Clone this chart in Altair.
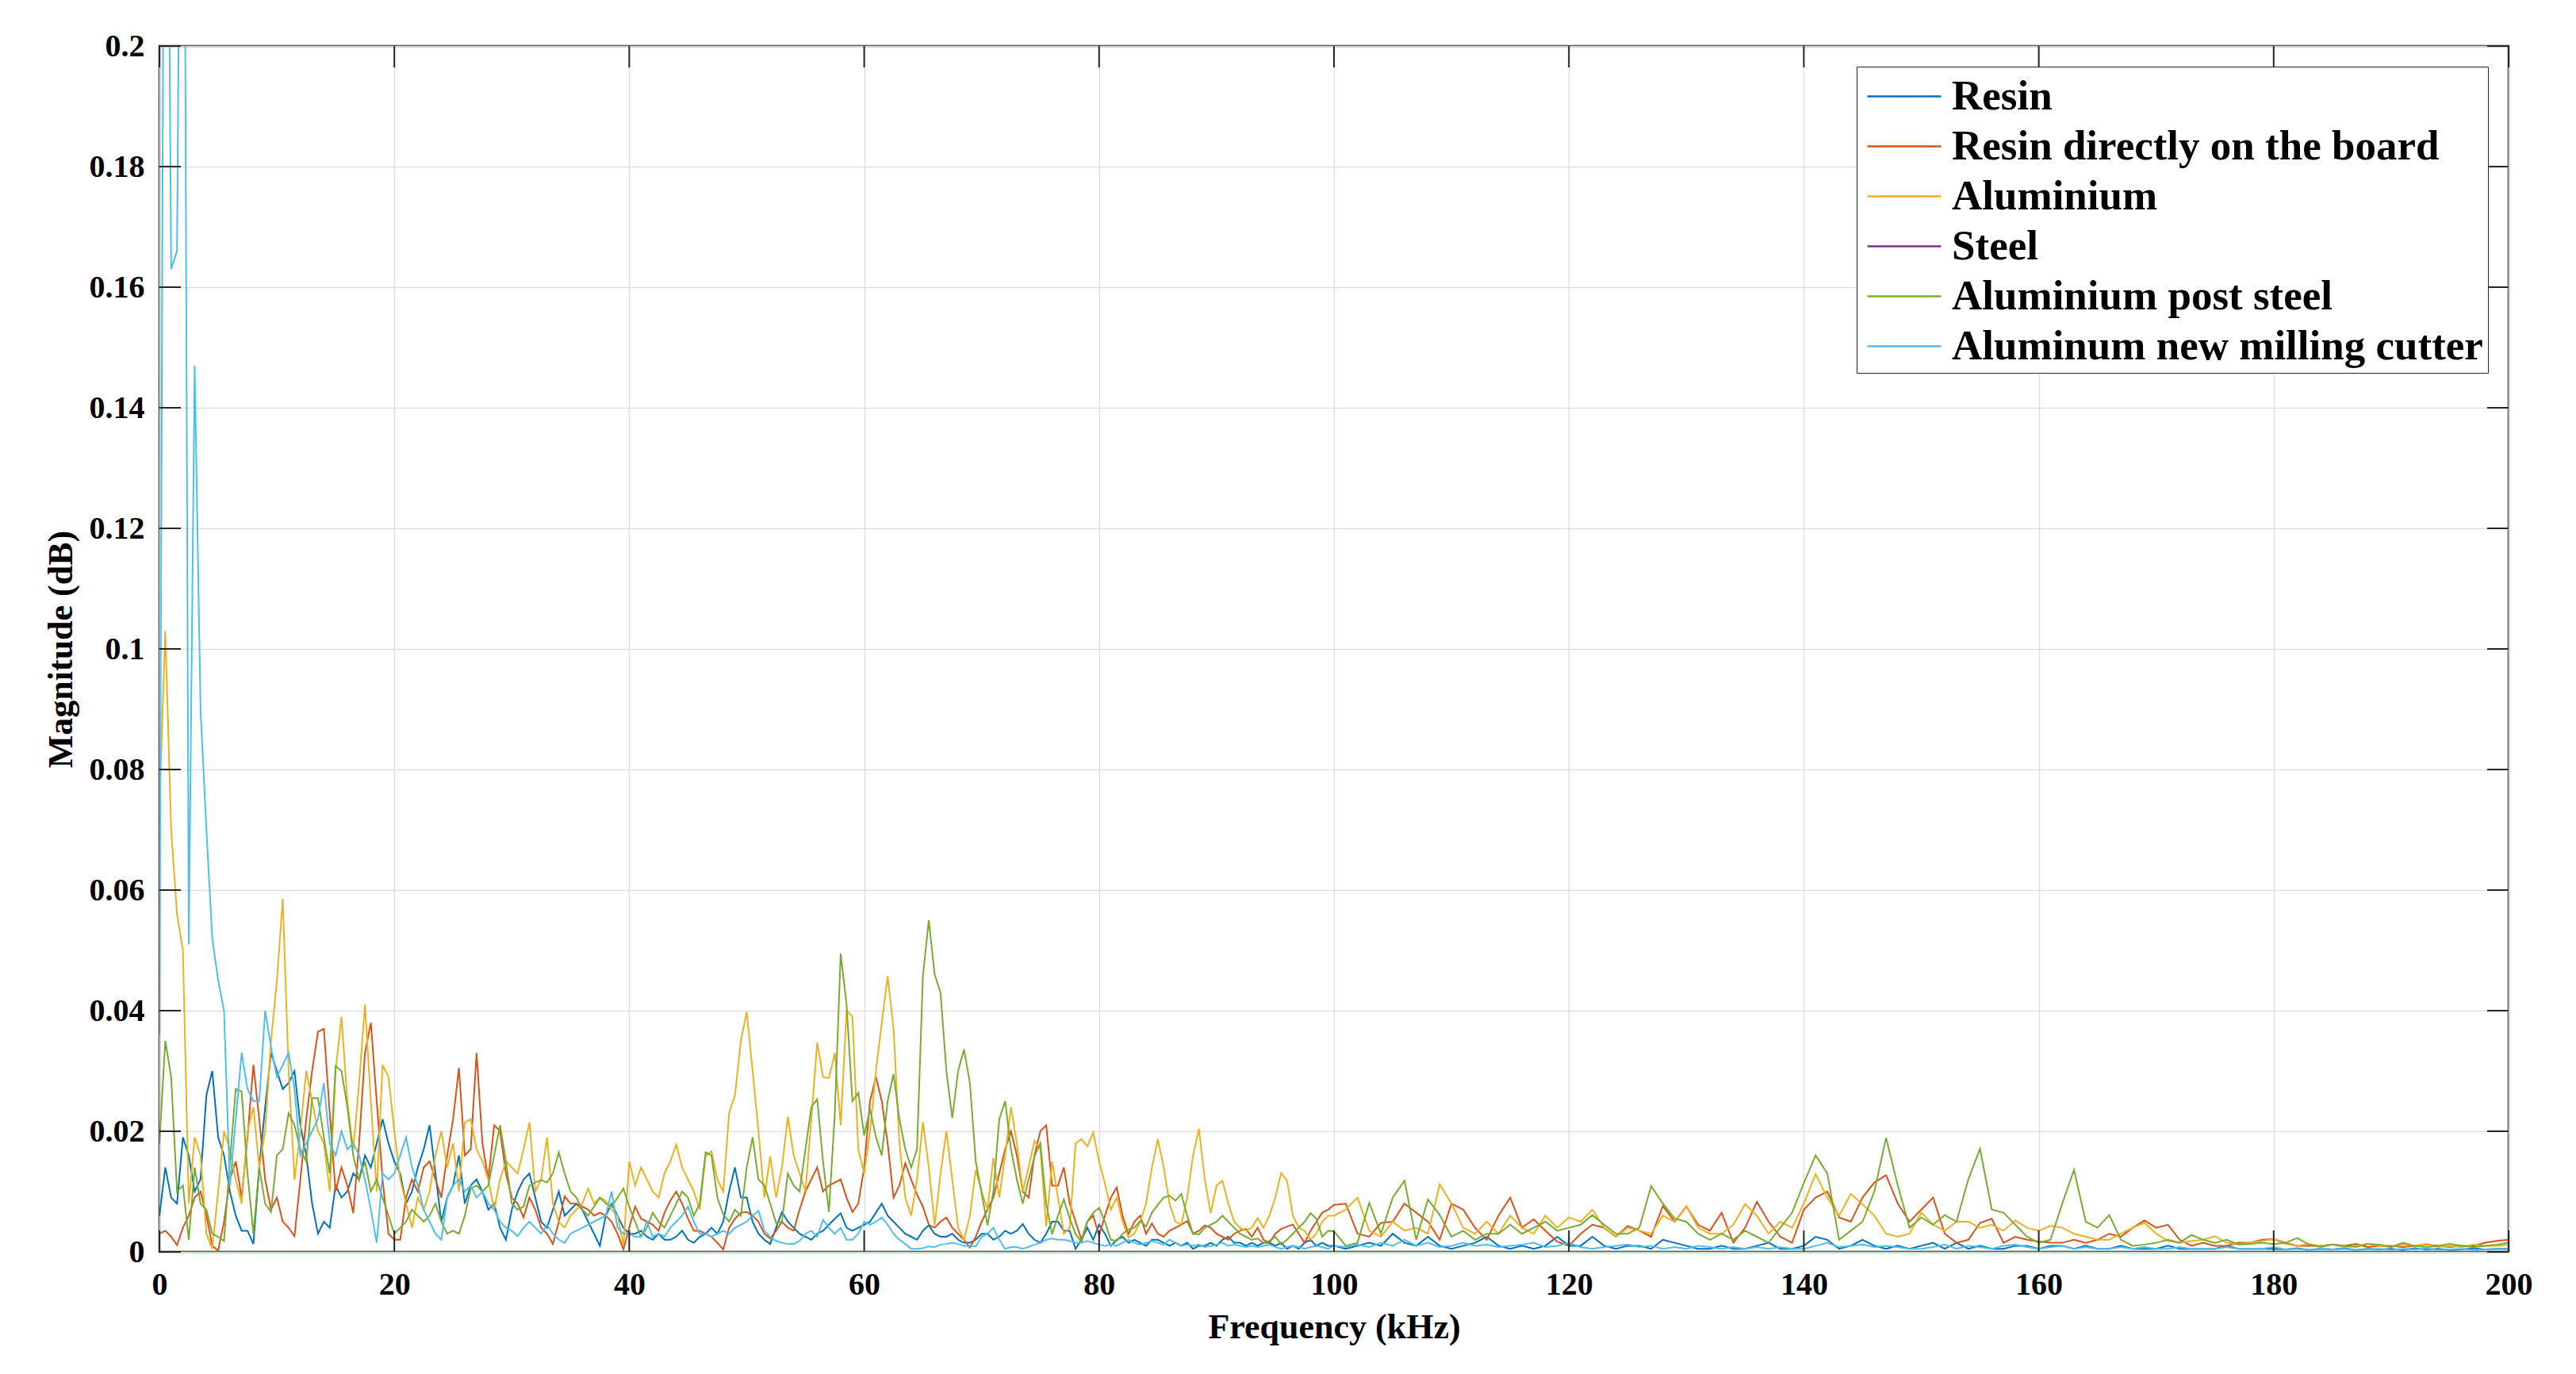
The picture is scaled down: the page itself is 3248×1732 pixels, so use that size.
import altair as alt
import pandas as pd

# ---------------- data ----------------
# Frequency grid (kHz): 0.5 kHz bins from 0 to 99.5, then 1 kHz bins from 100 to 200
freq_fine = [i * 0.5 for i in range(200)]
freq_coarse = list(range(100, 201))
freq = freq_fine + freq_coarse

series_names = ["Resin", "Resin directly on the board", "Aluminium", "Steel",
                "Aluminium post steel", "Aluminum new milling cutter"]
series_colors = ["#0072BD", "#D95319", "#EDB120", "#7E2F8E", "#77AC30", "#4DBEEE"]

# Magnitudes, in units of 1e-3 dB
resin = [
    6, 14, 9, 8, 19, 16, 10, 12, 26, 30,
    19, 16, 10, 6, 3.5, 3.5, 1.3, 14, 24, 33,
    30, 27, 28, 30, 21, 16, 8, 3, 5, 4,
    11, 9, 10, 13, 12, 16, 14, 18, 22, 18,
    15, 13, 8, 10, 14, 17, 21, 13, 5, 9,
    11, 16, 8, 11, 12, 10, 7, 8, 4, 2,
    7, 10, 12, 13, 9, 5, 4, 7, 10, 6,
    7, 8, 7, 5, 3, 1, 6, 8, 6, 4,
    3, 3, 3.5, 2.5, 2, 3, 2, 2, 2.5, 3.5,
    2, 1.5, 2.5, 3, 4, 3, 5, 10, 14, 9,
    9, 5, 3, 2, 1.3, 4, 6.6, 5, 4, 3,
    2.5, 2, 3, 3.5, 4.5, 5.5, 6.4, 4, 3.5, 4,
    4.5, 5, 6.5, 8, 6, 5, 4, 3, 2.5, 2,
    3.5, 4.4, 3, 2.5, 2.5, 3, 2, 1.5, 1.5, 2,
    3, 3, 2, 2.5, 3.5, 3, 3.5, 4.6, 3, 2,
    1.5, 3, 5, 5, 3.5, 3.5, 0.5, 2, 4, 2,
    4.5, 3, 1, 2, 2.5, 1.5, 2, 1.5, 1, 2,
    2, 1.5, 1, 1.5, 1, 1.5, 0.5, 1, 1, 1.5,
    1, 2, 2.5, 1.5, 1.5, 1, 1.5, 1, 1.5, 1.5,
    1, 1.5, 0.5, 1, 0.5, 1.5, 2, 1, 1.5, 1,
    # 100..200 kHz
    1, 0.5, 1, 1.5, 1, 3, 1.5, 1, 2.5, 1,
    0.5, 1, 1.5, 2.5, 1, 0.5, 1, 0.5, 1, 2.5,
    1, 1, 2.5, 1, 0.5, 1, 1, 0.5, 2, 1.5,
    1, 0.5, 0.5, 1, 0.5, 0.5, 1, 1.5, 0.5, 0.5,
    1, 2.5, 2, 0.5, 1, 2, 1, 0.5, 1, 0.5,
    1, 1.5, 0.5, 1.5, 0.5, 1, 0.5, 0.5, 1, 1,
    0.5, 1, 1, 0.5, 1, 0.5, 0.5, 1, 0.5, 0.5,
    0.5, 1, 0.5, 0.5, 0.5, 0.5, 1, 0.5, 0.5, 0.5,
    0.5, 0.4, 0.6, 0.3, 0.5, 0.4, 0.6, 0.3, 0.5, 0.4,
    0.5, 0.3, 0.6, 0.4, 0.5, 0.3, 0.4, 0.6, 0.4, 0.5,
    0.5,
]

resin_board = [
    3, 3.5, 2.5, 1.1, 4, 6, 9, 10, 6, 1,
    0.2, 5, 12, 15, 9, 19, 31, 22, 12, 7,
    9, 5, 4, 2.6, 12, 22, 30, 36.5, 37, 23,
    10, 14, 11, 6.4, 18, 33, 38, 25, 12, 3,
    2, 2, 9, 12, 10, 14, 15, 12, 9, 16,
    22, 30.5, 16, 17, 33, 18, 12, 21, 20, 13,
    9, 8, 5.7, 9, 7, 4, 3, 1.3, 5, 9.2,
    8, 8, 7.5, 7, 6, 6.5, 6, 5, 3, 0.4,
    4, 7.5, 5.5, 5, 4.5, 3.5, 6.5, 8.5, 10, 8,
    5.5, 3.5, 3.5, 3, 2.5, 1.5, 0.4, 4, 5.5, 6.5,
    6.6, 6, 5, 3, 2.2, 3.5, 5, 4, 3.5, 7,
    10, 12, 14, 10, 11, 11.5, 12, 9, 6.6, 8,
    14, 25, 29, 25, 18, 9, 11, 14.7, 12, 9.5,
    7.5, 4.5, 4, 5, 5.7, 4, 3, 2, 0.7, 2.5,
    5, 7, 9, 13, 17, 20, 16, 10, 9, 16,
    20, 21, 11, 11, 14, 8, 5, 2, 5, 6,
    2.7, 6, 9, 10.7, 6, 2.9, 5, 6, 3, 4.7,
    3, 2.5, 3.5, 4, 4.5, 5.1, 3, 3.5, 4.4, 4,
    3, 2.5, 2, 3, 3.5, 3.8, 2.5, 4, 2, 1.5,
    3, 3.8, 4.2, 4.5, 3, 1.5, 3.5, 5, 6.5, 7,
    # 100..200 kHz
    7.8, 8, 3, 2.5, 4.8, 5, 8, 6.5, 5, 2,
    8, 7, 4, 2, 6, 9, 4, 5.4, 3.5, 1.7,
    1, 3, 4.5, 4, 2.5, 4.3, 3.5, 2.5, 7.6, 5,
    7.5, 4.5, 3.5, 6.5, 1.5, 4, 8.3, 5, 2.5, 1.5,
    7, 9, 10, 5.7, 5, 9, 11.5, 12.7, 8, 5,
    7, 9, 3, 1.5, 2, 4.8, 5.5, 1.5, 2.5, 2,
    1.7, 1.5, 1.5, 2, 1.5, 2, 3, 2.5, 4, 5.2,
    4, 4.5, 2, 1, 1.5, 1, 1, 1.5, 1.5, 2,
    2.1, 1.5, 1, 1, 1, 1.2, 1, 1.3, 0.8, 1,
    1, 0.8, 1, 1.2, 1, 0.8, 1, 1, 1.5, 1.8,
    2,
]

aluminium = [
    74, 103, 70, 56, 50, 8, 19, 16, 3, 0.5,
    10, 20, 17, 12, 8, 20, 24, 14, 20, 35,
    45, 58.5, 30, 12, 20, 30, 25, 20, 18, 10,
    30, 39, 25, 17, 28, 41, 25, 10, 31, 29,
    20, 12, 8, 4, 9, 7, 10, 16, 20, 14,
    18, 10, 21.5, 22, 17, 15, 12, 7, 12, 15,
    14, 13, 17, 21.5, 10, 12, 19, 8, 5, 4,
    6, 7, 8, 10.5, 8, 9, 8.5, 7, 6, 1,
    15, 11, 14, 12, 10, 9, 13, 15, 17.8, 14,
    12, 10, 7, 15.8, 16.7, 12, 10, 23, 26, 35,
    39.8, 30, 20, 9, 15.8, 9, 14, 22.4, 16, 13,
    10, 22, 34.7, 29, 28.8, 33, 21, 40, 39, 17,
    13, 20, 30, 38, 45.7, 37, 18, 9, 6, 12,
    21.5, 14, 4.4, 13, 20, 12, 4, 2, 6, 13.6,
    10, 7, 15.6, 9, 16, 24, 18, 10, 14, 18.4,
    17, 4.2, 15, 9, 3, 4, 18, 18.7, 17.5, 19.8,
    15, 11.3, 7, 9, 5, 2.4, 3, 5, 8, 14,
    18.7, 14, 8, 5, 4.5, 9, 16, 20.4, 12, 6.4,
    11, 11.8, 8, 5, 4, 3.5, 4, 5.6, 4, 6,
    9, 13.1, 11.8, 6, 4, 3.5, 2, 3, 5, 6,
    # 100..200 kHz
    6, 7, 9, 3.5, 2.5, 5, 3.5, 4, 3, 11.2,
    8, 4, 3, 5, 3, 6, 4, 3, 6, 4,
    5.7, 5, 7, 4, 2.5, 4, 3.5, 3, 6, 5,
    7.6, 4, 3, 3, 4.5, 7.9, 6, 3, 5, 4,
    8, 12.9, 9, 6, 9.6, 7.9, 6, 3, 2.5, 3,
    6.5, 4.5, 3.5, 5, 5, 4, 4.5, 3.5, 5.2, 4,
    3.5, 4.3, 4, 3, 2.5, 2, 2, 3, 4, 4.8,
    3, 1.8, 1.5, 1.8, 2, 2.6, 1.5, 1.3, 1.5, 1.8,
    2.1, 1.3, 1, 1.3, 1, 1.2, 0.8, 1, 1.3, 1,
    0.8, 1.2, 1, 1.3, 0.8, 1, 0.8, 1.2, 1, 1,
    1.2,
]

steel_freq = [0, 200]
steel = [0, 0]

aluminium_post_steel = [
    18, 35, 29, 10, 11, 2, 14, 8, 7, 3,
    2.5, 1.8, 15, 27, 26.6, 13, 3, 14, 8, 6.6,
    16, 17, 23, 21, 17, 15, 25.5, 25.5, 19, 13,
    30.8, 30, 24, 16, 11.9, 15, 10, 12, 9, 6,
    3, 4, 5, 7, 6, 5, 6, 8, 5, 3,
    3.5, 3, 6, 10.5, 11, 10, 11, 16, 21, 15,
    8, 7, 7.5, 11, 11.5, 11.9, 11.5, 13, 16.5, 13,
    10, 9, 7, 6, 7.5, 9, 8, 7.5, 9, 10.5,
    7.5, 5, 2.5, 4, 6.5, 5, 4, 6, 8, 10,
    9, 6, 8, 16.5, 16, 9, 6.2, 5, 7, 6,
    14, 19, 12, 11, 8, 4.8, 5, 13, 11, 10,
    17, 24, 25.3, 15, 6.6, 23, 49.5, 41, 25, 26.4,
    19.3, 23.7, 19, 16, 25, 29.5, 22, 17, 14, 17,
    45.7, 55, 46, 43, 30, 22.2, 30, 33.6, 28, 15,
    9.7, 4.4, 10, 22, 25, 17, 12, 8, 12, 15.8,
    18, 8, 2.9, 6, 8.7, 5.5, 3, 1.6, 5, 6.5,
    7.3, 5, 2, 1.8, 3, 3.7, 4, 5.1, 4.2, 6.5,
    7.8, 9, 9.3, 8.5, 9.6, 6, 3, 2.9, 4, 4.5,
    5, 6, 5, 4, 3, 2.5, 2, 2.2, 1.5, 1.8,
    2.5, 1.2, 2, 3, 4, 5, 6.4, 5.5, 2.5, 3.5,
    # 100..200 kHz
    3.4, 1, 1.5, 8.1, 3, 9, 11.8, 2, 8.7, 6.1,
    2.5, 3.5, 2, 3, 3, 4.5, 3, 4, 5, 3.5,
    4, 4.5, 6.1, 4.5, 3, 3, 4, 10.9, 8, 5.5,
    5, 3, 2, 3, 2, 3.5, 2.5, 1.5, 4, 6.5,
    11.4, 16, 13, 2, 3.5, 5, 10, 18.9, 11, 4,
    5.7, 4.5, 6.1, 5, 12, 17.1, 7, 6.5, 4.5, 2.5,
    1.5, 2, 8, 13.6, 5, 4, 6.1, 2, 1, 1.2,
    1.5, 2, 1.5, 2.8, 2, 1.5, 2, 1.2, 1.3, 1.5,
    1.3, 1.5, 2.3, 1.2, 0.8, 1.2, 1, 0.8, 1.3, 1.2,
    0.8, 1.5, 1, 0.8, 1, 1.3, 1, 0.8, 1, 1.2,
    1.5,
]

new_cutter = [
    36, 300, 163, 166, 300, 51, 147, 90, 70, 52,
    45, 40, 11, 22, 33, 27, 25, 25, 40, 34,
    29, 31, 33, 27, 16, 18, 20, 22, 28, 18,
    16, 20, 17, 18, 16, 12, 7, 1.5, 13, 12,
    13, 16, 19, 14, 11, 7, 5, 3, 2, 9,
    11, 12, 10, 11, 9, 10, 8, 7, 5, 4,
    3.5, 2.6, 4, 5, 4, 3, 4.5, 3, 2, 1.5,
    3, 3.5, 4, 4.5, 5, 5.5, 6, 10, 4, 3,
    3, 2.5, 2.5, 5, 2.5, 3, 2.5, 4, 5, 6,
    7.5, 5, 3, 3, 2.5, 3, 3.5, 3, 4, 4.5,
    5, 6, 6.8, 3.5, 2.5, 1.8, 1.5, 1.3, 1.3, 1.8,
    3, 3.5, 2.5, 5.3, 4, 3, 4, 2, 2, 3,
    5, 4.5, 5, 5.7, 4.5, 3, 2, 1.3, 0.5, 0.5,
    0.6, 0.9, 0.8, 1.2, 1.3, 1.5, 1.3, 1, 1, 0.9,
    2.5, 3, 4, 2, 0.5, 0.8, 0.8, 0.5, 0.8, 1.2,
    1.5, 2, 2.2, 2, 2, 1.8, 1.5, 1.5, 1.8, 1.5,
    1.2, 1, 1.2, 1, 1.5, 2, 1.5, 1.2, 1.5, 1.8,
    1.5, 1.2, 2, 1.5, 1, 1.2, 1, 1.2, 0.8, 1,
    1.2, 1.5, 1, 1.2, 1, 0.8, 1, 0.8, 1, 1.2,
    0.8, 0.5, 0.8, 1, 0.8, 0.5, 0.8, 1, 0.8, 0.5,
    # 100..200 kHz
    1, 0.8, 1.2, 0.8, 1.5, 1, 2, 1, 1.5, 0.8,
    1, 1.5, 1, 1.2, 0.8, 1, 1.2, 1.5, 0.8, 1,
    1.5, 0.8, 0.5, 0.8, 1, 1.2, 0.8, 1, 0.5, 0.8,
    0.5, 1, 0.8, 0.5, 0.8, 0.5, 0.8, 0.5, 0.8, 0.5,
    0.5, 1, 1.5, 0.8, 1, 1.2, 0.8, 1, 0.8, 0.5,
    0.5, 0.8, 1.2, 0.5, 1, 0.8, 0.5, 1, 1.2, 0.8,
    0.5, 0.8, 1, 0.5, 0.8, 0.5, 0.5, 0.8, 0.5, 0.8,
    0.5, 0.5, 0.8, 0.5, 0.5, 0.5, 0.8, 0.5, 0.5, 0.5,
    0.8, 0.4, 0.5, 0.3, 0.6, 0.4, 0.5, 0.3, 0.4, 0.5,
    0.3, 0.5, 0.4, 0.6, 0.3, 0.4, 0.5, 0.3, 0.4, 0.5,
    0.4,
]

x_tick_values = [0, 20, 40, 60, 80, 100, 120, 140, 160, 180, 200]
y_tick_values = [0, 0.02, 0.04, 0.06, 0.08, 0.1, 0.12, 0.14, 0.16, 0.18, 0.2]

# ---------------- table ----------------
series_data = [
    (series_names[0], freq, resin),
    (series_names[1], freq, resin_board),
    (series_names[2], freq, aluminium),
    (series_names[3], steel_freq, steel),
    (series_names[4], freq, aluminium_post_steel),
    (series_names[5], freq, new_cutter),
]
rows = []
for name, fr, vals in series_data:
    n = min(len(fr), len(vals))
    for f, v in zip(fr[:n], vals[:n]):
        rows.append({"freq": f, "value": v / 1000.0, "series": name})
df = pd.DataFrame(rows)

# ---------------- chart ----------------
W, H = 2962, 1520
TICK = 27
AXIS_COLOR = "#262626"
FONT = "Liberation Serif"

xscale = alt.Scale(domain=[0, 200], nice=False, zero=False)
yscale = alt.Scale(domain=[0, 0.2], nice=False)

x_axis = alt.Axis(values=x_tick_values, title="Frequency (kHz)",
                  labelPadding=21, labelFlush=False, labelOverlap=False,
                  titleX=W / 2, titleY=95, titleBaseline="middle",
                  titleAlign="center")
y_axis = alt.Axis(values=y_tick_values, format=".2~f", title="Magnitude (dB)",
                  labelPadding=19, labelFlush=False, labelOverlap=False,
                  titleX=-124, titleY=H / 2, titleBaseline="middle",
                  titleAlign="center", titleAngle=270)

lines = alt.Chart(df).mark_line(clip=True, strokeWidth=2).encode(
    x=alt.X("freq:Q", scale=xscale, axis=x_axis),
    y=alt.Y("value:Q", scale=yscale, axis=y_axis),
    color=alt.Color("series:N",
                    scale=alt.Scale(domain=series_names, range=series_colors),
                    legend=alt.Legend(title=None, orient="top-right", offset=26,
                                      labelFont=FONT, labelFontSize=53,
                                      labelFontWeight="bold", labelColor="black",
                                      labelLimit=2000, labelOffset=51,
                                      symbolType="M-0.8,0H2.3", symbolSize=3600,
                                      symbolStrokeWidth=2.5, padding=6, rowPadding=4,
                                      strokeColor=AXIS_COLOR, fillColor="white")),
)

ytick_df = pd.DataFrame({"value": y_tick_values})
xtick_df = pd.DataFrame({"freq": x_tick_values})

left_ticks = alt.Chart(ytick_df).mark_rule(color=AXIS_COLOR, strokeWidth=2).encode(
    y=alt.Y("value:Q", scale=yscale, axis=y_axis), x=alt.value(0), x2=alt.value(TICK))
right_ticks = alt.Chart(ytick_df).mark_rule(color=AXIS_COLOR, strokeWidth=2).encode(
    y=alt.Y("value:Q", scale=yscale, axis=y_axis), x=alt.value(W - TICK), x2=alt.value(W))
bottom_ticks = alt.Chart(xtick_df).mark_rule(color=AXIS_COLOR, strokeWidth=2).encode(
    x=alt.X("freq:Q", scale=xscale, axis=x_axis), y=alt.value(H - TICK), y2=alt.value(H))
top_ticks = alt.Chart(xtick_df).mark_rule(color=AXIS_COLOR, strokeWidth=2).encode(
    x=alt.X("freq:Q", scale=xscale, axis=x_axis), y=alt.value(0), y2=alt.value(TICK))

chart = alt.layer(lines, left_ticks, right_ticks, bottom_ticks, top_ticks).properties(
    width=W, height=H,
    autosize=alt.AutoSizeParams(type="none"),
    padding={"left": 193, "top": 50, "right": 70, "bottom": 140},
    background="white",
).configure_view(
    stroke=AXIS_COLOR, strokeWidth=2.5
).configure_axis(
    domain=False, ticks=False, grid=True, gridColor="#DFDFDF", gridWidth=1.5,
    labelFont=FONT, labelFontSize=40, labelFontWeight="bold", labelColor="black",
    titleFont=FONT, titleFontSize=44, titleFontWeight="bold", titleColor="black",
)

chart.save("out.html", embed_options={"renderer": "svg", "actions": False})
